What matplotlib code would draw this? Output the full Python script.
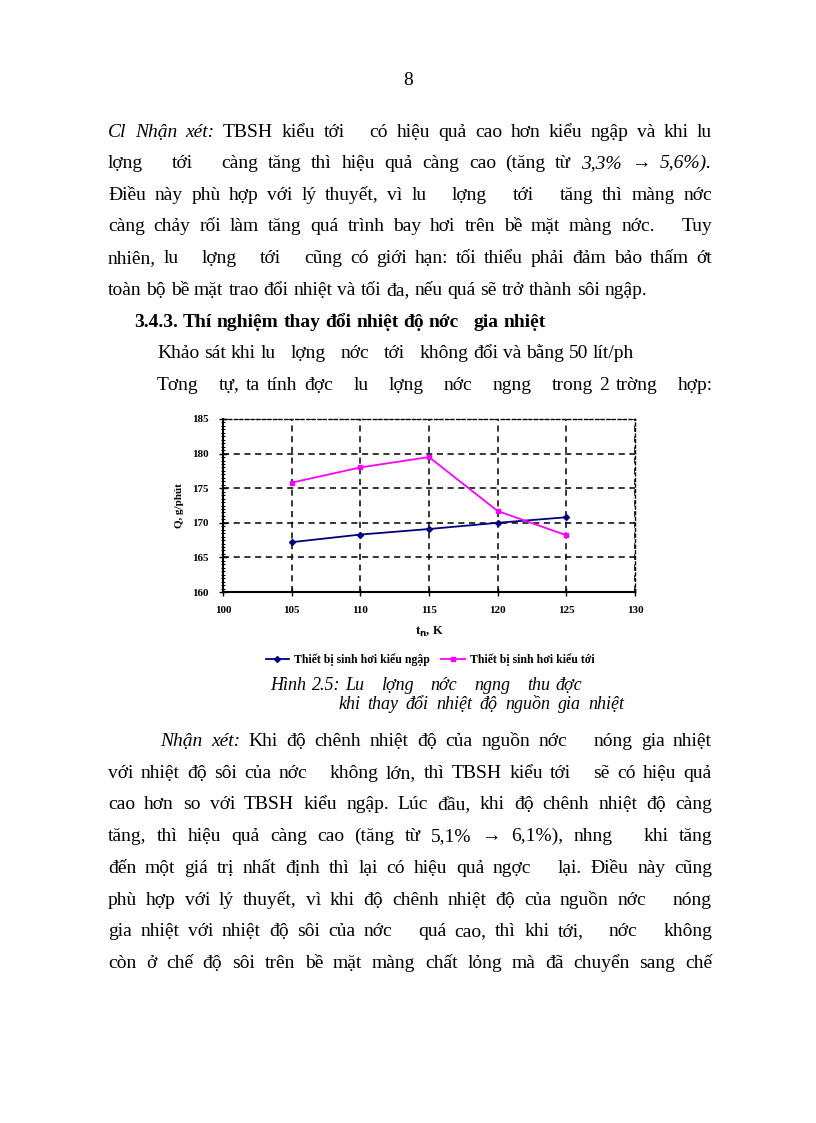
import matplotlib
matplotlib.use("Agg")
import matplotlib.pyplot as plt
from matplotlib.ticker import MultipleLocator
from matplotlib.lines import Line2D

# chart data
temp = [105, 110, 115, 120, 125]
q_ngap = [167.2, 168.3, 169.1, 170.0, 170.8]
q_toi = [175.8, 178.0, 179.5, 171.7, 168.2]
series_labels = ["Thiết bị sinh hơi kiểu ngập", "Thiết bị sinh hơi kiểu tới"]
x_ticks = [100, 105, 110, 115, 120, 125, 130]
y_ticks = [160, 165, 170, 175, 180, 185]

# page text; _word_ = italic word
top_lines = [
    "_Cl_ _Nhận_ _xét:_ TBSH kiểu tới   có hiệu quả cao hơn kiểu ngập và khi lu",
    "lợng   tới   càng tăng thì hiệu quả càng cao (tăng từ _3,3%_ → _5,6%)._",
    "Điều này phù hợp với lý thuyết, vì lu   lợng   tới   tăng thì màng nớc",
    "càng chảy rối làm tăng quá trình bay hơi trên bề mặt màng nớc.   Tuy",
    "nhiên, lu   lợng   tới   cũng có giới hạn: tối thiểu phải đảm bảo thấm ớt",
    "toàn bộ bề mặt trao đổi nhiệt và tối đa, nếu quá sẽ trở thành sôi ngập.",
]
heading = "3.4.3. Thí nghiệm thay đổi nhiệt độ nớc   gia nhiệt"
intro_1 = "Khảo sát khi lu   lợng   nớc   tới   không đổi và bằng 50 lít/ph"
intro_2 = "Tơng   tự, ta tính đợc   lu   lợng   nớc   ngng   trong 2 trờng   hợp:"
caption_1 = "Hình 2.5: Lu   lợng   nớc   ngng   thu đợc"
caption_2 = "khi thay đổi nhiệt độ nguồn gia nhiệt"
bottom_lines = [
    "_Nhận_ _xét:_ Khi độ chênh nhiệt độ của nguồn nớc   nóng gia nhiệt",
    "với nhiệt độ sôi của nớc   không lớn, thì TBSH kiểu tới   sẽ có hiệu quả",
    "cao hơn so với TBSH kiểu ngập. Lúc đầu, khi độ chênh nhiệt độ càng",
    "tăng, thì hiệu quả càng cao (tăng từ 5,1% → 6,1%), nhng   khi tăng",
    "đến một giá trị nhất định thì lại có hiệu quả ngợc   lại. Điều này cũng",
    "phù hợp với lý thuyết, vì khi độ chênh nhiệt độ của nguồn nớc   nóng",
    "gia nhiệt với nhiệt độ sôi của nớc   quá cao, thì khi tới,   nớc   không",
    "còn ở chế độ sôi trên bề mặt màng chất lỏng mà đã chuyển sang chế",
]

W, H = 816, 1123
SERIF = ["Liberation Serif", "DejaVu Serif"]

fig = plt.figure(figsize=(W / 100, H / 100), dpi=100)
fig.patch.set_facecolor("white")
renderer = fig.canvas.get_renderer()


def put_line(x0, y, text, x1=None, size=14, weight="normal", italic=False):
    # y = middle of the lowercase letters, in page pixels from the top
    base = 1 - (y + 5) / H
    parts = []
    for tok in text.split(" "):
        it = italic
        if len(tok) > 2 and tok.startswith("_") and tok.endswith("_"):
            tok, it = tok[1:-1], True
        if tok == "":
            parts.append((None, 0.0))
            continue
        t = fig.text(0, base, tok, fontsize=size, family=SERIF, weight=weight,
                     style="italic" if it else "normal", va="baseline")
        parts.append((t, t.get_window_extent(renderer).width))
    total = sum(w for _, w in parts)
    n_gap = max(len(parts) - 1, 1)
    gap = size * 0.25 * 100 / 72
    if x1 is not None:
        gap = (x1 - x0 - total) / n_gap
    x = x0
    for t, w in parts:
        if t is not None:
            t.set_x(x / W)
        x += w + gap


fig.text(408 / W, 1 - 85 / H, "8", fontsize=14, family=SERIF, ha="center", va="baseline")

top_y = [132, 163, 195, 226, 258, 290]
for i, line in enumerate(top_lines):
    right = 712 if i < len(top_lines) - 1 else None
    put_line(108, top_y[i], line, right)
put_line(134, 322, heading, weight="bold")
put_line(157, 353, intro_1)
put_line(157, 385, intro_2, 713)

# chart
ax = fig.add_axes([223 / W, 1 - 592 / H, (635 - 223) / W, (592 - 419) / H])
ax.plot(temp, q_ngap, color="#000080", marker="D", markersize=3, linewidth=1.3)
ax.plot(temp, q_toi, color="#ff00ff", marker="s", markersize=3, linewidth=1.3)
ax.set_xlim(100, 130)
ax.set_ylim(160, 185)
ax.set_xticks(x_ticks)
ax.set_yticks(y_ticks)
ax.yaxis.set_minor_locator(MultipleLocator(0.5))
ax.grid(True, color="black", linestyle=(0, (4, 3)), linewidth=1.1)
for s in ["top", "right"]:
    ax.spines[s].set_linestyle((0, (2, 2)))
    ax.spines[s].set_linewidth(1.0)
for s in ["left", "bottom"]:
    ax.spines[s].set_linewidth(1.5)
ax.tick_params(which="major", direction="inout", length=6, width=1, labelsize=8, pad=7)
ax.tick_params(which="minor", direction="inout", length=3, width=0.8)
for lab in ax.get_xticklabels() + ax.get_yticklabels():
    lab.set_fontweight("bold")
    lab.set_family(SERIF)
ax.set_xlabel("t$_\\mathbf{n}$, K", fontsize=9, fontweight="bold", family=SERIF, labelpad=7)
ax.set_ylabel("Q, g/phút", fontsize=8, fontweight="bold", family=SERIF, labelpad=6)

handles = [Line2D([], [], color="#000080", marker="D", markersize=3, linewidth=1.3),
           Line2D([], [], color="#ff00ff", marker="s", markersize=3, linewidth=1.3)]
fig.legend(handles, series_labels, loc="center", bbox_to_anchor=(430 / W, 1 - 660 / H),
           ncol=2, frameon=False, handlelength=2.0, columnspacing=1.0, handletextpad=0.4,
           prop={"family": SERIF, "weight": "bold", "size": 8.5})

put_line(270, 685, caption_1, x1=582, size=13, italic=True)
put_line(338, 704, caption_2, x1=624, size=13, italic=True)

bottom_y = [741, 773, 804, 836, 868, 900, 931, 963]
for i, line in enumerate(bottom_lines):
    put_line(160 if i == 0 else 108, bottom_y[i], line, 712)

fig.savefig("out.png", dpi=100, facecolor="white")
